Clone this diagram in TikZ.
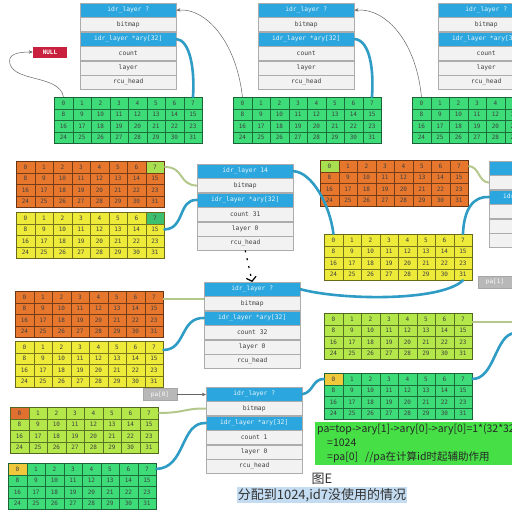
\documentclass[tikz,border=0pt]{standalone}
\usepackage{fontspec}
\setmonofont{DejaVu Sans Mono}
\newfontfamily\cjk{Noto Sans CJK SC}
\usetikzlibrary{arrows.meta,positioning}

\definecolor{hdrblue}{HTML}{2BA6DE}
\definecolor{fldgray}{HTML}{F2F2F2}
\definecolor{linkblue}{HTML}{2E9CC4}
\definecolor{linkolive}{HTML}{B4C88C}
\definecolor{bmgreen}{HTML}{3DDC78}
\definecolor{bmorange}{HTML}{E8772E}
\definecolor{bmyellow}{HTML}{EEEA3A}
\definecolor{bmlime}{HTML}{B4E84A}
\definecolor{hotlime}{HTML}{A8E050}
\definecolor{hotteal}{HTML}{3CC070}
\definecolor{hotgold}{HTML}{F0C83C}
\definecolor{hotorange}{HTML}{E07030}
\definecolor{nullred}{HTML}{C8203E}
\definecolor{labgray}{HTML}{B8B8B8}
\definecolor{notegreen}{HTML}{46E046}
\definecolor{selblue}{HTML}{C4DCF2}

% 8x4 bitmap: name, x, y, fill, hot cell, hot fill
\newcommand{\bitmapgrid}[6]{%
  \foreach \i in {0,...,31}{
    \pgfmathtruncatemacro{\cc}{mod(\i,8)}
    \pgfmathtruncatemacro{\rr}{div(\i,8)}
    \ifnum\i=#5 \def\cf{#6}\else\def\cf{#4}\fi
    \node[cell, fill=\cf, draw=#4!50!black] (#1-\i) at ({#2+\cc*18.5},{#3+\rr*11.5}) {\i};
  }
  \draw[line width=0.8pt, draw=#4!45!black] (#1-0.north west) rectangle (#1-31.south east);
}
% idr_layer struct: name, x, y, header, count, layer
\newcommand{\idrlayer}[6]{%
  \node[fld, hdr, anchor=north west] (#1-h) at (#2,#3) {#4};
  \node[fld, below=0pt of #1-h] (#1-bm) {bitmap};
  \node[fld, hdr, below=0pt of #1-bm] (#1-ary) {idr\_layer *ary[32]};
  \node[fld, below=0pt of #1-ary] (#1-cnt) {count#5};
  \node[fld, below=0pt of #1-cnt] (#1-lay) {layer#6};
  \node[fld, below=0pt of #1-lay] (#1-rcu) {rcu\_head};
}

\begin{document}
\begin{tikzpicture}[x=1pt, y=-1pt,
  cell/.style={anchor=north west, minimum width=18.5pt, minimum height=11.5pt, inner sep=0pt, line width=0.4pt,
    font=\ttfamily\fontsize{6}{6}\selectfont, text=black!75},
  fld/.style={draw=gray!65, fill=fldgray, minimum width=96pt, minimum height=14pt, inner sep=0pt,
    font=\ttfamily\fontsize{6.3}{7}\selectfont, text=black!75},
  hdr/.style={fill=hdrblue, text=white!90!hdrblue},
  bluelink/.style={draw=linkblue, line width=2.6pt, line cap=round},
  olivelink/.style={draw=linkolive, line width=2pt},
  thinarr/.style={draw=black!60, line width=0.5pt, -{Stealth[length=4pt,width=3.5pt]}},
  downarr/.style={black, line width=1.2pt, dash pattern=on 2pt off 6pt, -{Straight Barb[length=4pt,width=10pt]}},
  nullbox/.style={fill=nullred, text=white, font=\ttfamily\bfseries\fontsize{6}{6}\selectfont, minimum width=34pt, minimum height=11pt, inner sep=0pt},
  palab/.style={draw=gray!70, fill=labgray, text=white, font=\ttfamily\fontsize{6}{6}\selectfont, minimum width=34pt, minimum height=12pt, inner sep=0pt},
  note/.style={fill=notegreen, anchor=north west, align=left, inner sep=2pt, text width=260pt, minimum height=43pt,
    font=\cjk\fontsize{10.5}{14}\selectfont, text=black!85},
  caption/.style={font=\cjk\fontsize{13}{13}\selectfont, text=black!80, inner sep=1pt}]
\fill[white] (0,0) rectangle (512,512);
\clip (0,0) rectangle (512,512);
% top row
\idrlayer{la}{80}{3}{idr\_layer ?}{}{}
\idrlayer{lb}{258}{3}{idr\_layer ?}{}{}
\idrlayer{lc}{438}{3}{idr\_layer ?}{}{}
\bitmapgrid{ga}{54}{97}{bmgreen}{-1}{}
\bitmapgrid{gb}{233}{97}{bmgreen}{-1}{}
\bitmapgrid{gc}{412}{97}{bmgreen}{-1}{}
\node[nullbox] (null) at (50,52) {NULL};
\draw[thinarr] (ga-0.north) .. controls (60,75) and (15,82) .. (10,64) .. controls (7,54) and (18,52) .. (null.west);
\draw[thinarr] (gb-0.north) .. controls (236,40) and (205,8) .. (la-h.east);
\draw[thinarr] (gc-0.north) .. controls (416,40) and (385,8) .. (lb-h.east);
\draw[bluelink] (la-ary.east) .. controls (190,40) and (195,70) .. (ga-7.north);
\draw[bluelink] (lb-ary.east) .. controls (370,40) and (374,70) .. (gb-7.north);
% middle row
\bitmapgrid{oa}{16}{161}{bmorange}{7}{hotlime}
\bitmapgrid{ya}{16}{212}{bmyellow}{7}{hotteal}
\idrlayer{ld}{197}{164}{idr\_layer 14}{ 31}{ 0}
\bitmapgrid{ob}{320}{160}{bmorange}{0}{hotlime}
\bitmapgrid{yb}{324}{234}{bmyellow}{-1}{}
\idrlayer{lf}{489}{161}{idr\_layer ?}{}{}
\draw[olivelink] (oa-7.east) .. controls (185,167) and (178,185) .. (ld-bm.west);
\draw[bluelink] (ya-15.east) .. controls (185,229) and (178,199) .. (ld-ary.west);
\draw[bluelink] (ld-h.east) .. controls (312,172) and (330,205) .. (yb-0.north);
\draw[olivelink] (ob-7.east) .. controls (480,167) and (478,182) .. (lf-bm.west);
\draw[bluelink] (yb-7.north) .. controls (464,208) and (474,196) .. (lf-ary.west);
% lower row
\bitmapgrid{oc}{15}{291}{bmorange}{-1}{}
\bitmapgrid{yc}{15}{341}{bmyellow}{-1}{}
\idrlayer{le}{204}{282}{idr\_layer ?}{ 32}{ 0}
\draw[downarr] (ld-rcu.south) -- (le-h.north);
\draw[olivelink] ([yshift=-2pt]oc-7.east) -- ([yshift=-2pt]oc-7.east -| le-bm.west);
\draw[bluelink] ([yshift=-3pt]yc-7.east) .. controls (186,350) and (180,317) .. (le-ary.west);
\node[palab] (pa1) at (495,282) {pa[1]};
\draw[bluelink] (le-h.east) .. controls (340,300) and (440,302) .. (yb-31.south);
\bitmapgrid{lga}{324}{313}{bmlime}{-1}{}
\bitmapgrid{gd}{324}{373}{bmgreen}{0}{hotgold}
\coordinate (offa) at (515,322);
\coordinate (offb) at (515,333);
\draw[olivelink] ([yshift=-3pt]lga-7.east) -- ([yshift=-3pt]lga-7.east -| offa);
\draw[bluelink] (gd-7.east) .. controls (495,379) and (495,334) .. (offb);
% bottom row
\idrlayer{lg}{206}{387}{idr\_layer ?}{ 1}{ 0}
\node[palab] (pa0) at (160,394.5) {pa[0]};
\draw[thinarr] (pa0) -- (pa0 -| lg-h.west);
\draw[bluelink] (lg-h.east) .. controls (314,392) and (312,379) .. (gd-0.west);
\bitmapgrid{lgb}{10}{407}{bmlime}{0}{hotorange}
\bitmapgrid{ge}{8}{463}{bmgreen}{0}{hotgold}
\draw[olivelink] (lgb-7.east) .. controls (185,413) and (185,408) .. (lg-bm.west);
\draw[bluelink] (ge-7.east) .. controls (186,468) and (180,422) .. (lg-ary.west);
% note and caption
\node[note] (note) at (315,422) {pa=top->ary[1]->ary[0]->ary[0]=1*(32*32)\\
  \hspace*{10pt}=1024\\
  \hspace*{10pt}=pa[0]\ \ //pa在计算id时起辅助作用};
\node[caption] (capa) at (322,479) {图E};
\node[caption, fill=selblue, below=1pt of capa] (capb) {分配到1024,id7没使用的情况};
\end{tikzpicture}
\end{document}
